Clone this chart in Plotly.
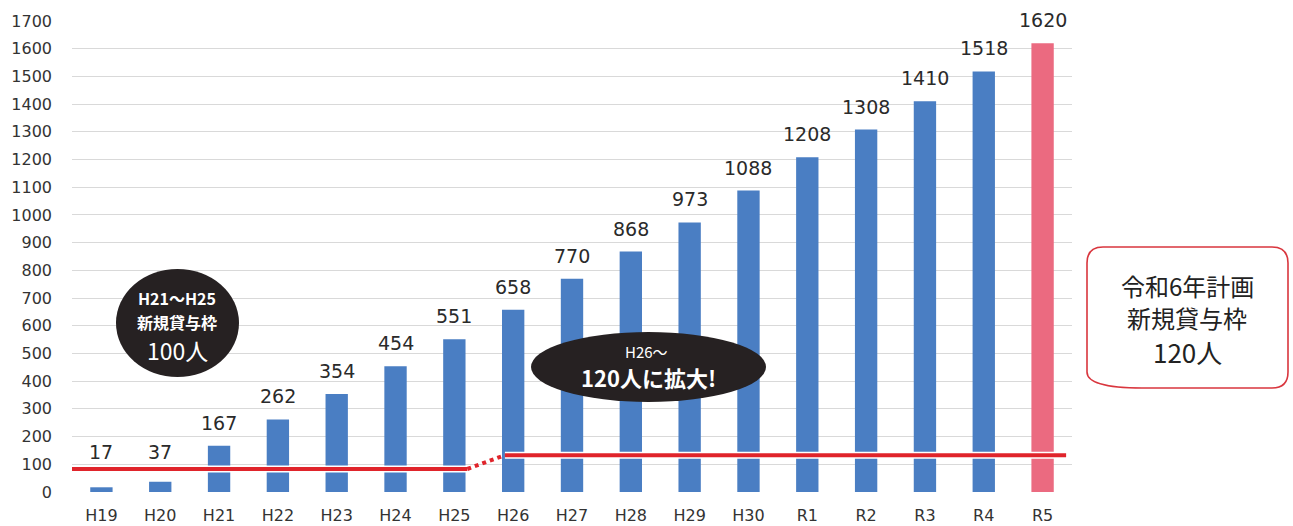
import plotly.graph_objects as go

# ---------------- data ----------------
categories = ["H19", "H20", "H21", "H22", "H23", "H24", "H25", "H26", "H27", "H28",
              "H29", "H30", "R1", "R2", "R3", "R4", "R5"]
values = [17, 37, 167, 262, 354, 454, 551, 658, 770, 868, 973, 1088, 1208, 1308,
          1410, 1518, 1620]
y_ticks = list(range(0, 1701, 100))

# quota line (drawn as symbolic level lines)
quota1_x = [-0.55, 6.22]
quota1_y = [83, 83]
quota_link_x = [6.22, 6.86]
quota_link_y = [83, 133]
quota2_x = [6.86, 16.4]
quota2_y = [133, 133]

BLUE = "#4A7EC3"
PINK = "#EB6A80"
RED = "#E0242B"
DARK = "#262122"

W, H = 1293, 526
PL, PR, PT, PB = 72, 1072, 21, 492  # plot area in pixels


def px(x):
    return (x - PL) / (PR - PL)


def py(y):
    return (PB - y) / (PB - PT)


def path_from(points, closed=True):
    s = ""
    for cmd, pts in points:
        s += cmd + " " + " ".join(f"{px(a):.5f},{py(b):.5f}" for a, b in pts) + " "
    if closed:
        s += "Z"
    return s


n = len(categories)
xs = list(range(n))
colors = [BLUE] * (n - 1) + [PINK]

fig = go.Figure()
fig.add_trace(go.Bar(x=xs, y=values, marker=dict(color=colors, line=dict(width=0)),
                     width=0.38, hoverinfo="skip", showlegend=False))

# white halo + red quota lines
for lx, ly in [(quota1_x, quota1_y), (quota2_x, quota2_y)]:
    fig.add_trace(go.Scatter(x=lx, y=ly, mode="lines", line=dict(color="white", width=7),
                             hoverinfo="skip", showlegend=False))
for lx, ly, dash in [(quota1_x, quota1_y, "solid"), (quota_link_x, quota_link_y, "dot"),
                     (quota2_x, quota2_y, "solid")]:
    fig.add_trace(go.Scatter(x=lx, y=ly, mode="lines", line=dict(color=RED, width=4, dash=dash),
                             hoverinfo="skip", showlegend=False))

NUMFONT = "DejaVu Sans"
# value labels
annotations = []
for i, v in enumerate(values):
    annotations.append(dict(x=i, y=max(v, 62), xref="x", yref="y", text=str(v),
                            showarrow=False, xanchor="center", yanchor="bottom", yshift=10,
                            font=dict(family=NUMFONT, size=19, color="#2a2a2a")))

shapes = []
# bubble 1 (black circle)
shapes.append(dict(type="circle", xref="paper", yref="paper",
                   x0=px(116), x1=px(239), y0=py(377), y1=py(269),
                   fillcolor=DARK, line=dict(width=0), layer="above"))
shapes.append(dict(type="path", xref="paper", yref="paper",
                   path=path_from([("M", [(196, 370)]), ("L", [(229, 357), (218, 386)])]),
                   fillcolor=DARK, line=dict(width=0), layer="above"))
# bubble 2 (black ellipse)
shapes.append(dict(type="circle", xref="paper", yref="paper",
                   x0=px(531), x1=px(766), y0=py(402), y1=py(332),
                   fillcolor=DARK, line=dict(width=0), layer="above"))
shapes.append(dict(type="path", xref="paper", yref="paper",
                   path=path_from([("M", [(575, 392)]), ("L", [(615, 398), (533, 447)])]),
                   fillcolor=DARK, line=dict(width=0), layer="above"))
# bubble 3 (white rounded rect with red border)
x0, x1, y0, y1, r = 1087, 1288, 247, 388, 16
p3 = path_from([
    ("M", [(x0 + r, y0)]), ("L", [(x1 - r, y0)]), ("Q", [(x1, y0), (x1, y0 + r)]),
    ("L", [(x1, y1 - r)]), ("Q", [(x1, y1), (x1 - r, y1)]),
    ("L", [(1142, y1), (1103, 422), (1120, y1), (x0 + r, y1)]),
    ("Q", [(x0, y1), (x0, y1 - r)]), ("L", [(x0, y0 + r)]), ("Q", [(x0, y0), (x0 + r, y0)]),
])
shapes.append(dict(type="path", xref="paper", yref="paper", path=p3,
                   fillcolor="white", line=dict(color="#D9363E", width=1.6), layer="above"))

JP = "Noto Sans CJK JP"


def note(x, y, text, size, color, bold=False):
    t = f"<b>{text}</b>" if bold else text
    return dict(x=px(x), y=py(y), xref="paper", yref="paper", showarrow=False,
                xanchor="center", yanchor="middle", text=t,
                font=dict(family=JP, size=size, color=color))


annotations += [
    note(177, 298, "H21～H25", 16, "white", True),
    note(177, 322, "新規貸与枠", 16, "white", True),
    note(177, 350, "100人", 23, "white"),
    note(646, 351, "H26～", 15, "white"),
    note(648, 377, "120人に拡大!", 22, "white", True),
    note(1187, 285, "令和6年計画", 24, "#222222"),
    note(1187, 317, "新規貸与枠", 24, "#222222"),
    note(1187, 351, "120人", 26, "#222222"),
]

fig.update_layout(
    width=W, height=H,
    margin=dict(l=PL, r=W - PR, t=PT, b=H - PB, pad=0),
    paper_bgcolor="white", plot_bgcolor="white",
    shapes=shapes, annotations=annotations,
    font=dict(family=NUMFONT, color="#333333"),
    xaxis=dict(range=[-0.5, n - 0.5], tickmode="array", tickvals=xs, ticktext=categories,
               showgrid=False, zeroline=False, showline=False, ticks="", automargin=False,
               tickfont=dict(size=16, color="#333333"), ticklabelstandoff=12, fixedrange=True),
    yaxis=dict(range=[0, 1700], tickmode="array", tickvals=y_ticks, automargin=False,
               showgrid=True, gridcolor="#D9D9D9", gridwidth=1, zeroline=False,
               showline=False, ticks="", tickfont=dict(size=16, color="#333333"),
               ticklabelstandoff=19, fixedrange=True),
)

fig.write_html("out.html")
